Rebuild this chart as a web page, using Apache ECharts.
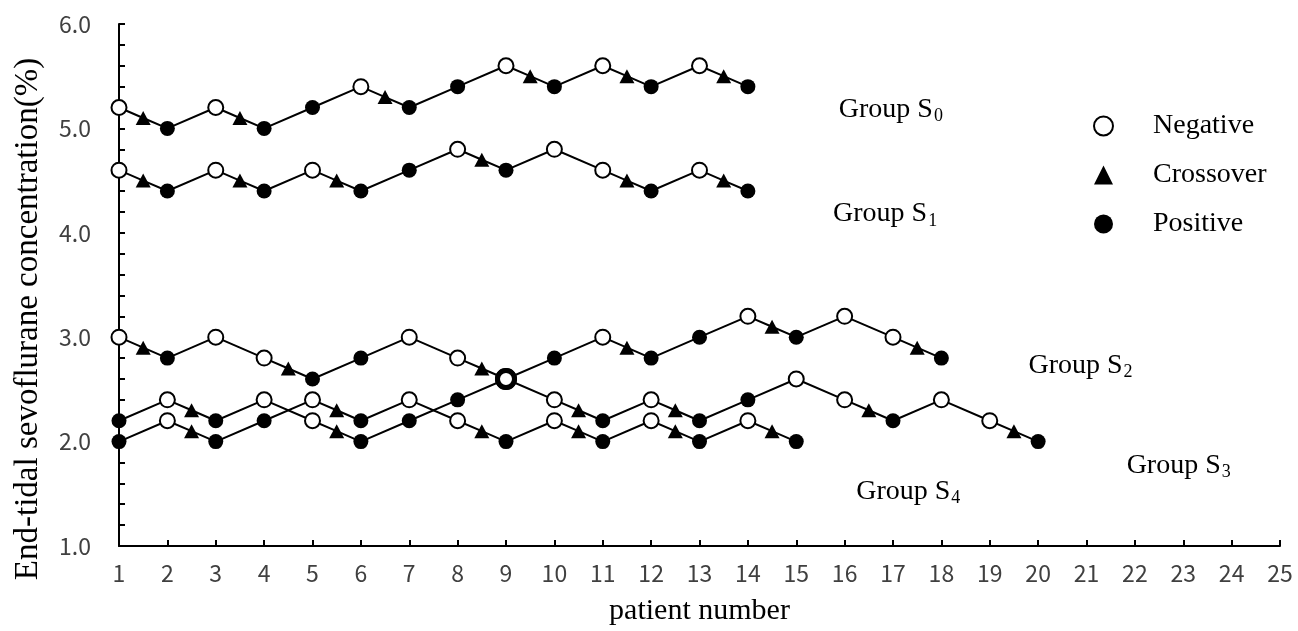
<!DOCTYPE html>
<html><head><meta charset="utf-8">
<script src="https://cdn.jsdelivr.net/npm/echarts@6/dist/echarts.min.js"></script>
<style>html,body{margin:0;padding:0;background:#fff}#c{width:1298px;height:631px}</style>
</head><body><div id="c"></div>
<script>
// N = negative (open circle), C = crossover (triangle), P = positive (filled circle), B = overlapping point (bold ring)
const groupS0X = [1,1.5,2,3,3.5,4,5,6,6.5,7,8,9,9.5,10,11,11.5,12,13,13.5,14];
const groupS0Y = [5.2,5.1,5.0,5.2,5.1,5.0,5.2,5.4,5.3,5.2,5.4,5.6,5.5,5.4,5.6,5.5,5.4,5.6,5.5,5.4];
const groupS0K = 'NCPNCPPNCPPNCPNCPNCP';

const groupS1X = [1,1.5,2,3,3.5,4,5,5.5,6,7,8,8.5,9,10,11,11.5,12,13,13.5,14];
const groupS1Y = [4.6,4.5,4.4,4.6,4.5,4.4,4.6,4.5,4.4,4.6,4.8,4.7,4.6,4.8,4.6,4.5,4.4,4.6,4.5,4.4];
const groupS1K = 'NCPNCPNCPPNCPNNCPNCP';

const groupS2X = [1,2,2.5,3,4,5,5.5,6,7,8,9,10,11,11.5,12,13,14,14.5,15,16,17,17.5,18];
const groupS2Y = [2.2,2.4,2.3,2.2,2.4,2.2,2.1,2.0,2.2,2.4,2.6,2.8,3.0,2.9,2.8,3.0,3.2,3.1,3.0,3.2,3.0,2.9,2.8];
const groupS2K = 'PNCPNNCPPPBPNCPPNCPNNCP';

const groupS3X = [1,1.5,2,3,4,4.5,5,6,7,8,8.5,9,10,10.5,11,12,12.5,13,14,15,16,16.5,17,18,19,19.5,20];
const groupS3Y = [3.0,2.9,2.8,3.0,2.8,2.7,2.6,2.8,3.0,2.8,2.7,2.6,2.4,2.3,2.2,2.4,2.3,2.2,2.4,2.6,2.4,2.3,2.2,2.4,2.2,2.1,2.0];
const groupS3K = 'NCPNNCPPNNCBNCPNCPPNNCPNNCP';

const groupS4X = [1,2,2.5,3,4,5,5.5,6,7,8,8.5,9,10,10.5,11,12,12.5,13,14,14.5,15];
const groupS4Y = [2.0,2.2,2.1,2.0,2.2,2.4,2.3,2.2,2.4,2.2,2.1,2.0,2.2,2.1,2.0,2.2,2.1,2.0,2.2,2.1,2.0];
const groupS4K = 'PNCPPNCPNNCPNCPNCPNCP';

const legendNames = ['Negative', 'Crossover', 'Positive'];
const groupLabelSubs = ['0', '1', '2', '3', '4'];
const groupLabelAnchors = [[15.88, 5.18], [15.76, 4.18], [19.8, 2.73], [21.83, 1.77], [16.24, 1.52]];

const SERIF = '"Liberation Serif", "Times New Roman", serif';
const SANS = '"Noto Sans CJK SC", "Noto Sans", sans-serif';

function pointStyle(k) {
  if (k === 'N') return { symbol: 'circle', symbolSize: 15, itemStyle: { color: '#fff', borderColor: '#000', borderWidth: 2 } };
  if (k === 'C') return { symbol: 'triangle', symbolSize: [15, 14], itemStyle: { color: '#000', borderWidth: 0 } };
  if (k === 'B') return { symbol: 'circle', symbolSize: 17, itemStyle: { color: '#fff', borderColor: '#000', borderWidth: 5 } };
  return { symbol: 'circle', symbolSize: 15, itemStyle: { color: '#000', borderWidth: 0 } };
}

function groupSeries(name, xs, ys, ks) {
  return {
    type: 'line', name: name,
    data: xs.map((x, i) => Object.assign({ value: [x, ys[i]] }, pointStyle(ks[i]))),
    showSymbol: true, showAllSymbol: true,
    lineStyle: { color: '#000', width: 2 },
    itemStyle: { color: '#000' },
    emphasis: { disabled: true },
    silent: true
  };
}

const series = [
  groupSeries('Group S0', groupS0X, groupS0Y, groupS0K),
  groupSeries('Group S1', groupS1X, groupS1Y, groupS1K),
  groupSeries('Group S4', groupS4X, groupS4Y, groupS4K),
  groupSeries('Group S2', groupS2X, groupS2Y, groupS2K),
  groupSeries('Group S3', groupS3X, groupS3Y, groupS3K),
  { type: 'scatter', name: legendNames[0], data: [], symbol: 'circle', itemStyle: { color: '#fff', borderColor: '#000', borderWidth: 2, opacity: 1 } },
  { type: 'scatter', name: legendNames[1], data: [], symbol: 'triangle', itemStyle: { color: '#000', opacity: 1 } },
  { type: 'scatter', name: legendNames[2], data: [], symbol: 'circle', itemStyle: { color: '#000', opacity: 1 } },
  {
    type: 'scatter', name: 'labels', silent: true, symbolSize: 0,
    itemStyle: { opacity: 1, color: '#000' },
    data: groupLabelAnchors.map((p, i) => ({ name: groupLabelSubs[i], value: p })),
    label: {
      show: true, position: 'right', distance: 0, color: '#000', opacity: 1,
      formatter: p => '{a|Group S}{b|' + p.name + '}',
      rich: {
        a: { fontFamily: SERIF, fontSize: 28, color: '#000', lineHeight: 30 },
        b: { fontFamily: SERIF, fontSize: 18, color: '#000', padding: [14, 0, 0, 1], lineHeight: 18 }
      }
    }
  }
];

const chart = echarts.init(document.getElementById('c'), null, { renderer: 'canvas' });
chart.setOption({
  animation: false,
  backgroundColor: '#fff',
  grid: { left: 119, right: 18, top: 24, bottom: 83, containLabel: false },
  legend: {
    data: legendNames.map((n, i) => ({ name: n, icon: i === 1 ? 'triangle' : 'circle' })),
    orient: 'vertical', left: 1088, top: 106,
    itemWidth: 19, itemHeight: 19, itemGap: 19,
    selectedMode: false,
    textStyle: { fontFamily: SERIF, fontSize: 28, color: '#000', lineHeight: 30, padding: [0, 0, 0, 35] }
  },
  xAxis: {
    type: 'value', min: 1, max: 25, interval: 1,
    name: 'patient number', nameLocation: 'middle', nameGap: 50,
    nameTextStyle: { fontFamily: SERIF, fontSize: 30, color: '#000' },
    axisLine: { show: true, onZero: false, lineStyle: { color: '#000', width: 2 } },
    axisTick: { show: true, inside: true, length: 6, lineStyle: { color: '#000', width: 2 } },
    axisLabel: { fontFamily: SANS, fontSize: 23, color: '#404040', margin: 16 },
    splitLine: { show: false }
  },
  yAxis: {
    type: 'value', min: 1, max: 6, interval: 1,
    axisLine: { show: true, onZero: false, lineStyle: { color: '#000', width: 2 } },
    axisTick: { show: true, inside: true, length: 6, lineStyle: { color: '#000', width: 2 } },
    minorTick: { show: true, splitNumber: 5, length: 6, lineStyle: { color: '#000', width: 2 } },
    axisLabel: { fontFamily: SANS, fontSize: 23, color: '#404040', margin: 28, formatter: v => v.toFixed(1) },
    splitLine: { show: false }
  },
  graphic: [{
    type: 'text', x: 28, y: 319, rotation: Math.PI / 2,
    style: { text: 'End-tidal sevoflurane concentration(%)', fontFamily: SERIF, fontSize: 33, fill: '#000', align: 'center', verticalAlign: 'middle' }
  }],
  series: series
});
</script></body></html>
